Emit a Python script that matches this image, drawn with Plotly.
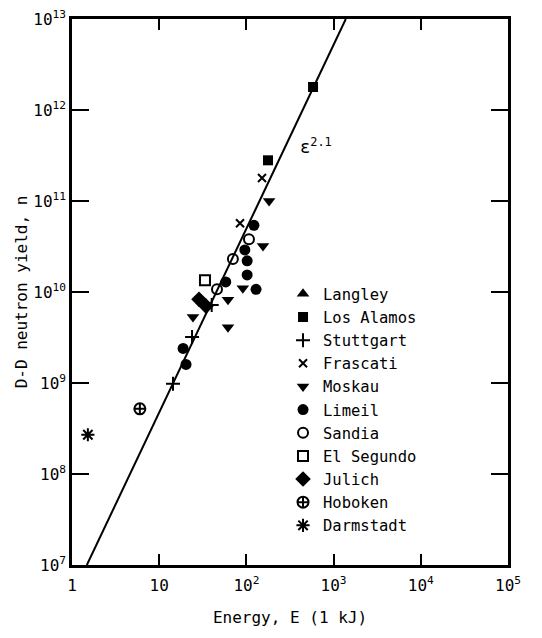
import plotly.graph_objects as go

# ---- data ----
langley_E, langley_n = [], []
losalamos_E = [581, 177]
losalamos_n = [1.79e12, 2.8e11]
stuttgart_E = [40, 23.8, 14.4]
stuttgart_n = [7.2e9, 3.2e9, 9.8e8]
frascati_E = [151, 84.5]
frascati_n = [1.79e11, 5.7e10]
moskau_E = [182, 155, 91, 61.5, 24.4, 61.5]
moskau_n = [1.0e11, 3.2e10, 1.1e10, 8.2e9, 5.3e9, 4.1e9]
limeil_E = [122, 96, 102, 102, 58, 129, 18.8, 20.3]
limeil_n = [5.4e10, 2.9e10, 2.2e10, 1.54e10, 1.29e10, 1.07e10, 2.4e9, 1.6e9]
sandia_E = [107, 70, 46]
sandia_n = [3.8e10, 2.3e10, 1.07e10]
elsegundo_E = [33.5]
elsegundo_n = [1.35e10]
julich_E = [28.6, 34.4]
julich_n = [8.3e9, 7.0e9]
hoboken_E = [6.0]
hoboken_n = [5.2e8]
darmstadt_E = [1.52]
darmstadt_n = [2.7e8]

fit_E = [1.48, 1380]
fit_n = [1e7, 1e13]

x_tickvals = [1, 10, 100, 1000, 10000, 100000]
x_ticktext = ["1", "10", "10<sup>2</sup>", "10<sup>3</sup>", "10<sup>4</sup>", "10<sup>5</sup>"]
y_tickvals = [1e7, 1e8, 1e9, 1e10, 1e11, 1e12, 1e13]
y_ticktext = ["10<sup>%d</sup>" % p for p in range(7, 14)]

FONT = "DejaVu Sans Mono"

fig = go.Figure()

fig.add_trace(go.Scatter(x=fit_E, y=fit_n, mode="lines",
                         line=dict(color="black", width=2), showlegend=False))

series = [
    ("Langley", langley_E, langley_n, "triangle-up", 11, 0),
    ("Los Alamos", losalamos_E, losalamos_n, "square", 10, 0),
    ("Stuttgart", stuttgart_E, stuttgart_n, "cross-thin-open", 10, 2),
    ("Frascati", frascati_E, frascati_n, "x-thin-open", 8, 2),
    ("Moskau", moskau_E, moskau_n, "triangle-down", 11, 0),
    ("Limeil", limeil_E, limeil_n, "circle", 11, 0),
    ("Sandia", sandia_E, sandia_n, "circle-open", 10, 2),
    ("El Segundo", elsegundo_E, elsegundo_n, "square-open", 10, 2),
    ("Julich", julich_E, julich_n, "diamond", 12, 0),
    ("Hoboken", hoboken_E, hoboken_n, "circle-cross-open", 11, 2),
    ("Darmstadt", darmstadt_E, darmstadt_n, "asterisk-open", 11, 2),
]
for i, (name, xs, ys, sym, size, lw) in enumerate(series):
    fig.add_trace(go.Scatter(
        x=xs if xs else [None], y=ys if ys else [None], mode="markers", name=name,
        legendgroup="g%d" % i,
        marker=dict(symbol=sym, size=size, color="black",
                    line=dict(color="black", width=lw)),
    ))

fig.add_annotation(x=2.59, y=11.6, xref="x", yref="y",
                   text="\u03b5<sup>2.1</sup>", showarrow=False, xanchor="left",
                   font=dict(family=FONT, size=17, color="black"))

axis_common = dict(type="log", showgrid=False, zeroline=False, showline=True,
                   linecolor="black", linewidth=2.5, mirror="ticks",
                   ticks="inside", tickcolor="black", tickwidth=2,
                   automargin=False, ticklabeloverflow="allow",
                   tickfont=dict(family=FONT, size=16, color="black"))

fig.update_xaxes(range=[0, 5], tickvals=x_tickvals, ticktext=x_ticktext,
                 ticklen=11, ticklabelstandoff=4,
                 title=dict(text="Energy, E (1 kJ)", font=dict(family=FONT, size=16, color="black"),
                            standoff=18),
                 **axis_common)
fig.update_yaxes(range=[7, 13], tickvals=y_tickvals, ticktext=y_ticktext,
                 ticklen=17,
                 title=dict(text="D-D neutron yield, n", font=dict(family=FONT, size=16, color="black"),
                            standoff=2),
                 **axis_common)

fig.update_layout(
    width=542, height=638,
    margin=dict(l=72, r=34, t=19, b=73, autoexpand=False),
    paper_bgcolor="white", plot_bgcolor="white",
    font=dict(family=FONT, color="black"),
    legend=dict(x=0.484, y=0.527, xanchor="left", yanchor="top",
                bgcolor="rgba(0,0,0,0)", borderwidth=0,
                font=dict(family=FONT, size=15.5, color="black"),
                tracegroupgap=0, itemwidth=30),
)

fig.write_html("out.html", config={"displayModeBar": False},
               post_script="document.body.style.margin='0';document.body.style.overflow='hidden';")
